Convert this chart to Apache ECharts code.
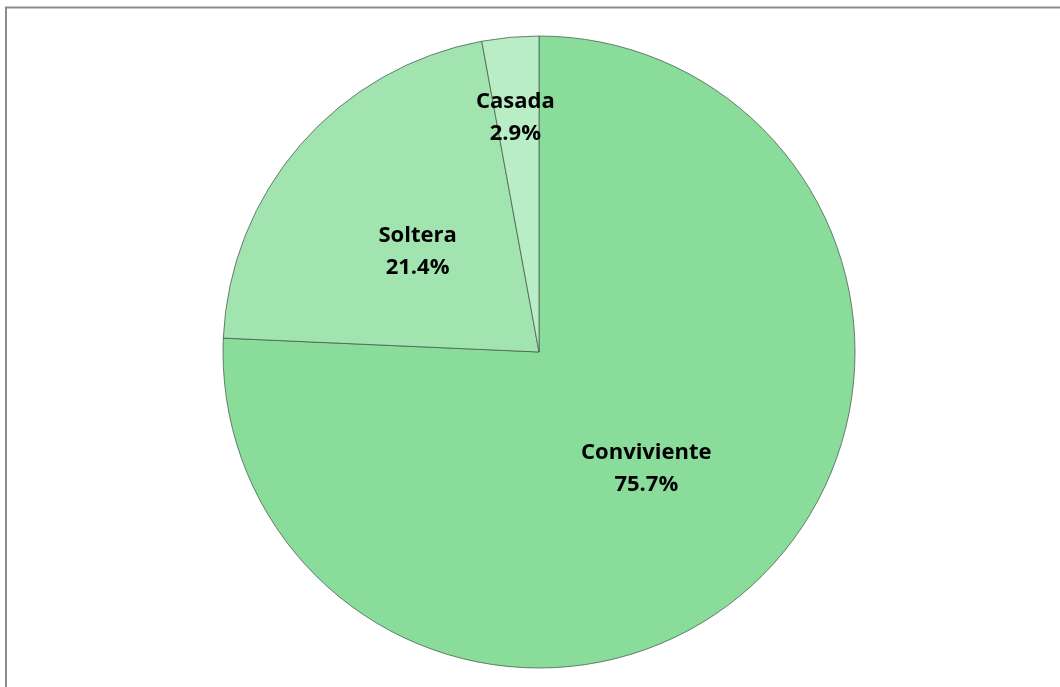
<!DOCTYPE html>
<html>
<head>
<meta charset="utf-8">
<script src="https://cdn.jsdelivr.net/npm/echarts@6/dist/echarts.min.js"></script>
<style>
  html, body { margin: 0; padding: 0; background: #ffffff; }
  #chart { width: 1060px; height: 687px; }
</style>
</head>
<body>
<div id="chart"></div>
<script>
// Estado civil: categorías y porcentajes
const categories = ['Conviviente', 'Soltera', 'Casada'];
const percentages = [75.7, 21.4, 2.9];
const sliceColors = ['#8adc9b', '#a1e4b0', '#b9edc5'];

const chart = echarts.init(document.getElementById('chart'));

const data = categories.map((name, i) => ({
  name: name,
  value: percentages[i],
  itemStyle: { color: sliceColors[i] }
}));

chart.setOption({
  animation: false,
  graphic: [{
    type: 'rect',
    shape: { x: 6, y: 7.5, width: 1080, height: 700 },
    style: { fill: 'none', stroke: '#8c8c8c', lineWidth: 2 },
    silent: true
  }],
  series: [{
    type: 'pie',
    center: [539, 352],
    radius: 316,
    startAngle: 90,
    clockwise: true,
    data: data,
    itemStyle: {
      borderColor: 'rgba(70,90,75,0.75)',
      borderWidth: 1
    },
    label: {
      show: true,
      position: 'inside',
      formatter: p => p.name + '\n' + p.value.toFixed(1) + '%',
      fontFamily: 'Open Sans',
      fontWeight: 'bold',
      fontSize: 22,
      lineHeight: 32,
      color: '#000000'
    },
    labelLine: { show: false },
    // nudge the labels into their places within the wedges
    labelLayout: function (params) {
      if (params.dataIndex === 2) {
        return { dx: -9, dy: -74 };
      }
      if (params.dataIndex === 1) {
        return { dy: 5 };
      }
      return { dx: -4 };
    },
    emphasis: { disabled: true }
  }]
});
</script>
</body>
</html>
